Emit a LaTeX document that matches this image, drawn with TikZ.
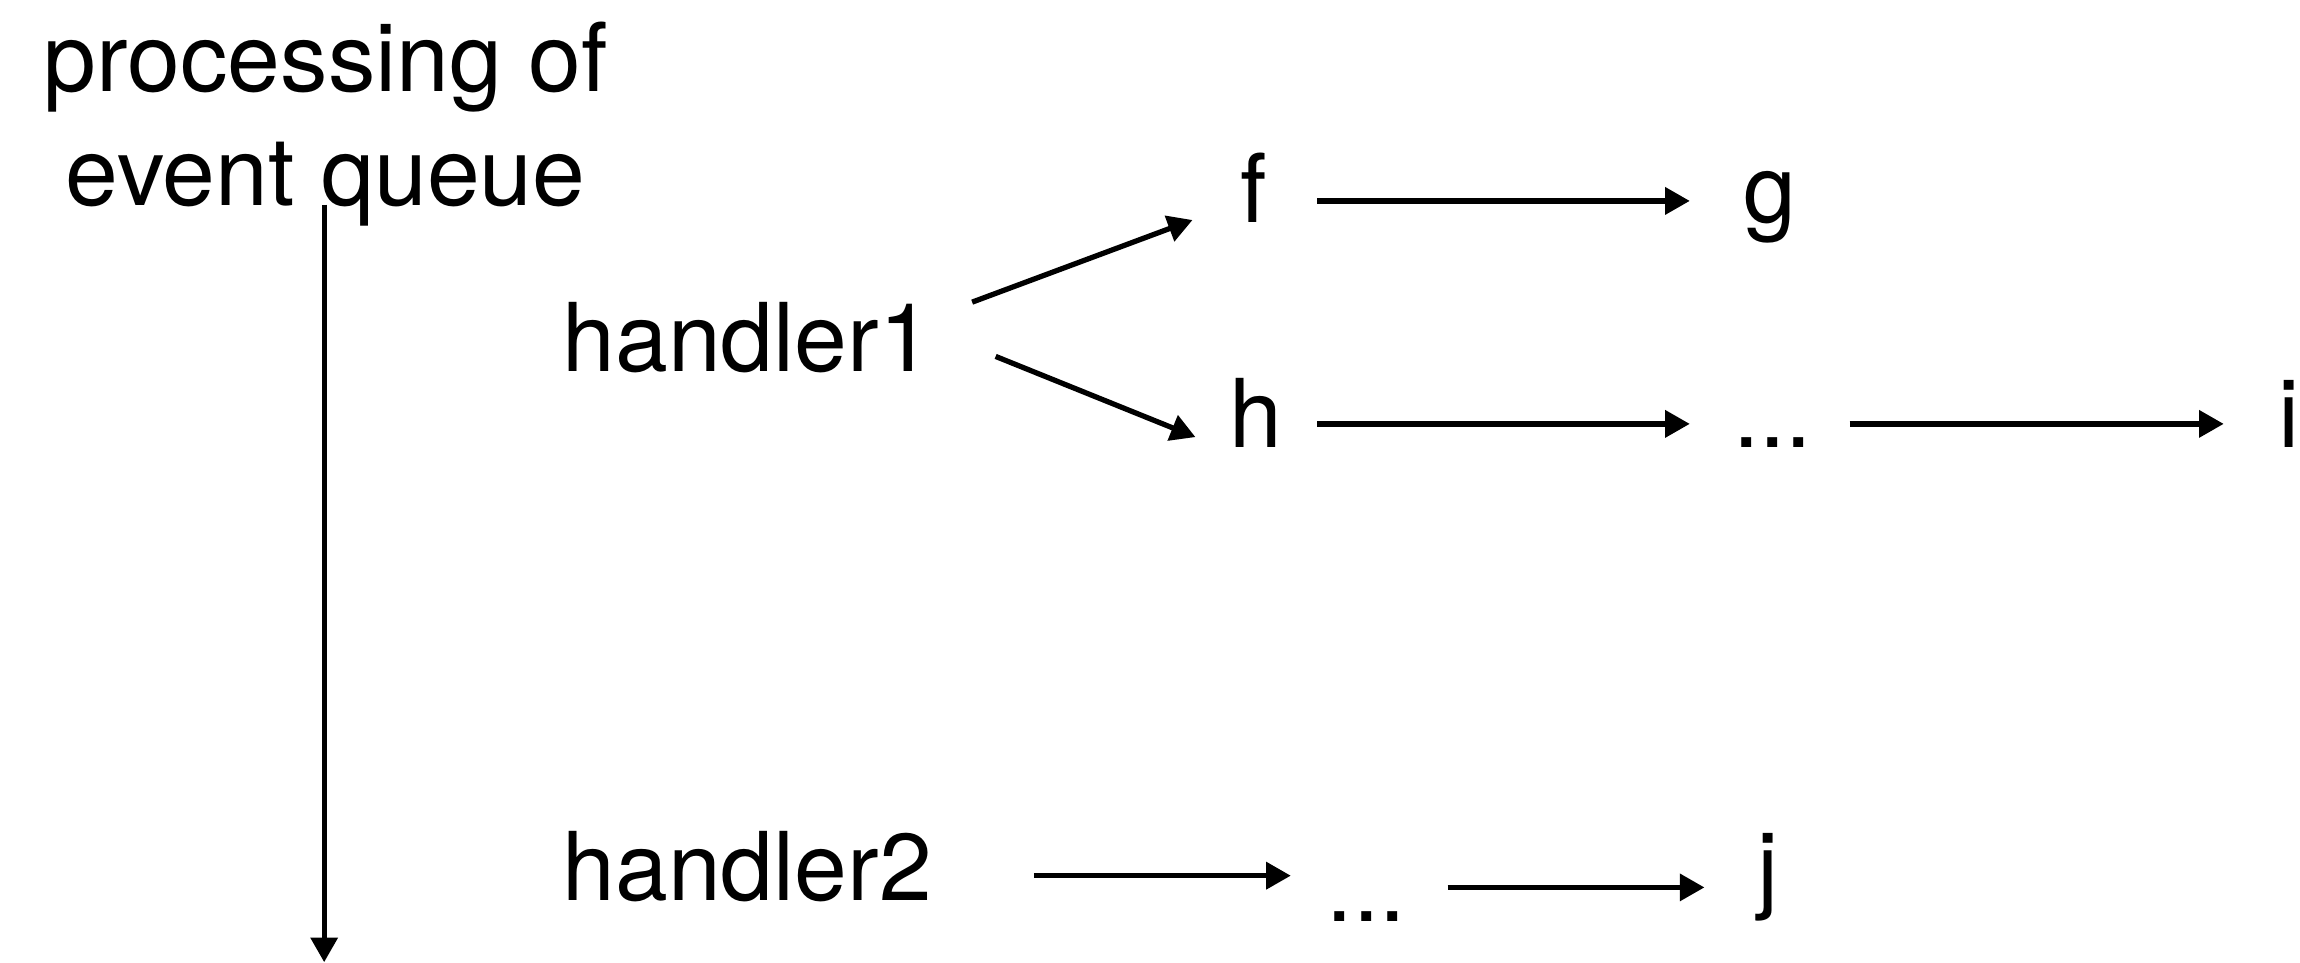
\documentclass[tikz,border=0pt]{standalone}
\usepackage{fontspec}
\setmainfont{TeX Gyre Heros}
\usetikzlibrary{arrows.meta,calc}
\begin{document}
\begin{tikzpicture}[x=0.014668cm,y=0.014668cm,
  lbl/.style={inner sep=0pt,anchor=base west,font=\fontsize{27}{32.5}\selectfont},
  flow/.style={line width=1.5pt,-{Triangle[length=7pt,width=7.5pt]}}]
\useasboundingbox (0,0) rectangle (1568,656);

% labels (a two-line node sits on the baseline of its last line)
\node[lbl,anchor=base,align=center] (queue) at (222,516) {processing of\\event queue};
\node[lbl] (h1) at (383,403) {handler1};
\node[lbl] (f)  at (845,504) {f};
\node[lbl] (g)  at (1188,504) {g};
\node[lbl] (h)  at (838,351) {h};
\node[lbl] (d1) at (1181,351) {...};
\node[lbl] (i)  at (1553,351) {i};
\node[lbl] (h2) at (383,42) {handler2};
\node[lbl] (d2) at (904,28) {...};
\node[lbl] (j)  at (1198,42) {j};
\coordinate (qend) at (221,0);

% time axis of the queue
\draw[flow] ([shift={(-1,15)}]queue.south) -- (qend);

% handler1 branches
\draw[flow] ([shift={(27,47)}]h1.base east) -- ([shift={(-32,2)}]f.base west);
\draw[flow] ([shift={(43,10)}]h1.base east) -- ([shift={(-23,7)}]h.base west);
\draw[flow] ([shift={(34,15)}]f.base east) -- ([shift={(-36,15)}]g.base west);
\draw[flow] ([shift={(23,16)}]h.base east) -- ([shift={(-29,16)}]d1.base west);
\draw[flow] ([shift={(25,16)}]d1.base east) -- ([shift={(-37,16)}]i.base west);

% handler2 chain
\draw[flow] ([shift={(69,17)}]h2.base east) -- ([shift={(-24,31)}]d2.base west);
\draw[flow] ([shift={(28,23)}]d2.base east) -- ([shift={(-36,9)}]j.base west);
\end{tikzpicture}
\end{document}
